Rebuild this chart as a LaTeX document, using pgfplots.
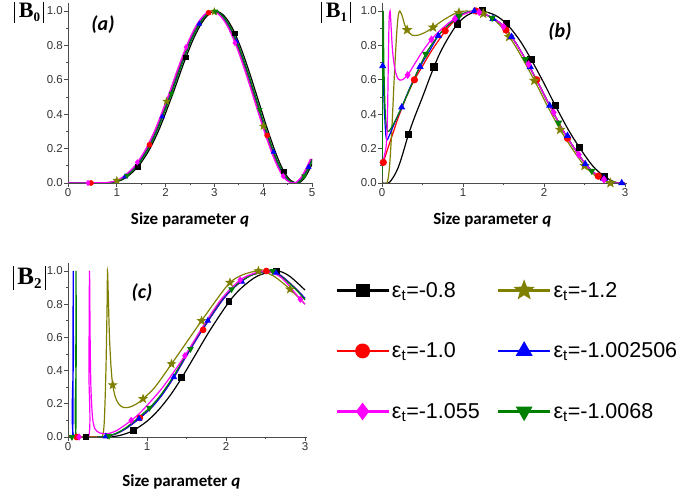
\documentclass[border=0pt]{standalone}
\usepackage{fontspec}
\setmainfont{Liberation Sans}
\newfontfamily\carlito{Carlito}
\newfontfamily\tnr{Liberation Serif}
\usepackage{pgfplots}
\pgfplotsset{compat=1.18}
\usepackage{pgfplotstable}

\definecolor{olv}{RGB}{128,128,0}
\definecolor{grn}{RGB}{0,128,0}
\definecolor{mag}{RGB}{255,0,255}
\definecolor{blu}{RGB}{0,0,255}
\definecolor{rd}{RGB}{255,0,0}

% filled five-point star
\pgfdeclareplotmark{fstar}{%
  \pgfpathmoveto{\pgfpointpolar{90}{1.3*\pgfplotmarksize}}%
  \pgfpathlineto{\pgfpointpolar{126}{0.55*\pgfplotmarksize}}%
  \pgfpathlineto{\pgfpointpolar{162}{1.3*\pgfplotmarksize}}%
  \pgfpathlineto{\pgfpointpolar{198}{0.55*\pgfplotmarksize}}%
  \pgfpathlineto{\pgfpointpolar{234}{1.3*\pgfplotmarksize}}%
  \pgfpathlineto{\pgfpointpolar{270}{0.55*\pgfplotmarksize}}%
  \pgfpathlineto{\pgfpointpolar{306}{1.3*\pgfplotmarksize}}%
  \pgfpathlineto{\pgfpointpolar{342}{0.55*\pgfplotmarksize}}%
  \pgfpathlineto{\pgfpointpolar{18}{1.3*\pgfplotmarksize}}%
  \pgfpathlineto{\pgfpointpolar{54}{0.55*\pgfplotmarksize}}%
  \pgfpathclose\pgfusepathqfillstroke}

% |B_n| with thin bars: #1 index, #2 font size, #3 subscript size, #4 bar height
\newcommand\absB[4]{{\tnr\bfseries\fontsize{#2}{#2}\selectfont
  \vrule height #4 depth 5bp width 0.7bp\kern4bp B\lower4bp\hbox{\fontsize{#3}{#3}\selectfont #1}\kern3bp\vrule height #4 depth 5bp width 0.7bp}}

\pgfplotsset{
  panel/.style={
    scale only axis, axis lines=left,
    axis line style={-, black!70, line width=0.9bp},
    ymin=0, ymax=1.045, ytick={0,0.2,0.4,0.6,0.8,1},
    minor y tick num=1, minor x tick num=1,
    tick align=outside, major tick length=4bp, minor tick length=2bp,
    tick style={black!70, line width=0.8bp},
    /pgf/number format/assume math mode=true,
    ticklabel style={font=\fontsize{11.5bp}{13bp}\selectfont, text=black!80, inner sep=1bp},
    yticklabel style={/pgf/number format/.cd, fixed, fixed zerofill, precision=1},
    xlabel={\carlito\bfseries Size parameter {\itshape q}},
    xlabel style={font=\fontsize{17bp}{20bp}\selectfont, at={(axis description cs:0.5,0)}, anchor=center},
    every axis plot/.append style={line width=1.2bp, smooth},
  },
  pk/.style={only marks, black, mark=square*},
  pr/.style={only marks, rd, mark=*},
  pm/.style={only marks, mag, mark=diamond*},
  po/.style={only marks, olv, mark=fstar},
  pb/.style={only marks, blu, mark=triangle*},
  pg/.style={only marks, grn, mark=triangle*, mark options={rotate=180}},
}

% panel (a): shared |B0| values, one q column per series
\pgfplotstableread{
v     qk   qr   qm   qo   qb   qg
0     0    0    0    0    0    0
0.002 0.85 0.8  0.77 0.78 0.81 0.82
0.005 0.95 0.9  0.87 0.88 0.91 0.92
0.012 1.05 1.0  0.97 0.98 1.01 1.02
0.025 1.15 1.1  1.07 1.08 1.11 1.12
0.045 1.25 1.2  1.17 1.18 1.21 1.22
0.07  1.35 1.3  1.27 1.28 1.31 1.32
0.10  1.45 1.4  1.37 1.38 1.41 1.42
0.14  1.55 1.5  1.47 1.48 1.51 1.52
0.185 1.65 1.6  1.57 1.58 1.61 1.62
0.24  1.75 1.7  1.67 1.68 1.71 1.72
0.30  1.85 1.8  1.77 1.78 1.81 1.82
0.37  1.95 1.9  1.87 1.88 1.91 1.92
0.445 2.05 2.0  1.97 1.98 2.01 2.02
0.52  2.15 2.1  2.07 2.08 2.11 2.12
0.60  2.25 2.2  2.17 2.18 2.21 2.22
0.68  2.35 2.3  2.27 2.28 2.31 2.32
0.755 2.45 2.4  2.37 2.38 2.41 2.42
0.825 2.55 2.5  2.47 2.48 2.51 2.52
0.885 2.65 2.6  2.57 2.58 2.61 2.62
0.935 2.75 2.7  2.67 2.68 2.71 2.72
0.972 2.85 2.8  2.77 2.78 2.81 2.82
0.995 2.95 2.9  2.87 2.88 2.91 2.92
0.998 3.05 3.0  2.97 2.98 3.01 3.02
0.985 3.15 3.1  3.07 3.08 3.11 3.12
0.955 3.25 3.2  3.17 3.18 3.21 3.22
0.91  3.35 3.3  3.27 3.28 3.31 3.32
0.85  3.45 3.4  3.37 3.38 3.41 3.42
0.78  3.55 3.5  3.47 3.48 3.51 3.52
0.70  3.65 3.6  3.57 3.58 3.61 3.62
0.615 3.75 3.7  3.67 3.68 3.71 3.72
0.525 3.85 3.8  3.77 3.78 3.81 3.82
0.435 3.95 3.9  3.87 3.88 3.91 3.92
0.345 4.05 4.0  3.97 3.98 4.01 4.02
0.26  4.15 4.1  4.07 4.08 4.11 4.12
0.18  4.25 4.2  4.17 4.18 4.21 4.22
0.11  4.35 4.3  4.27 4.28 4.31 4.32
0.055 4.45 4.4  4.37 4.38 4.41 4.42
0.018 4.55 4.5  4.47 4.48 4.51 4.52
0.002 4.65 4.6  4.57 4.58 4.61 4.62
0     4.70 4.65 4.62 4.63 4.66 4.67
0.003 4.75 4.7  4.67 4.68 4.71 4.72
0.03  4.85 4.8  4.77 4.78 4.81 4.82
0.08  4.95 4.9  4.87 4.88 4.91 4.92
0.14  5.05 5.0  4.97 4.98 5.01 5.02
}\tA

\begin{document}
\begin{tikzpicture}
\path[use as bounding box] (0,0) rectangle (685bp,495bp);

% ---------- (a) ----------
\begin{axis}[panel, at={(68bp,312bp)}, anchor=south west,
  width=244bp, height=179.7bp, xmin=0, xmax=5, xtick={0,1,2,3,4,5},
  xlabel style={yshift=-37bp}]
\addplot[black] table[x=qk, y=v] {\tA};
\addplot[rd]    table[x=qr, y=v] {\tA};
\addplot[olv]   table[x=qo, y=v] {\tA};
\addplot[blu]   table[x=qb, y=v] {\tA};
\addplot[grn]   table[x=qg, y=v] {\tA};
\addplot[mag]   table[x=qm, y=v] {\tA};
\pgfplotsset{every axis plot/.append style={mark size=2.2bp}}
\addplot[pk] coordinates {(1.43,0.094)(2.42,0.73)(3.42,0.87)(4.43,0.066)};
\addplot[pr] coordinates {(0.47,0)(1.67,0.222)(2.88,0.99)(4.08,0.277)};
\addplot[po] coordinates {(1.0,0.015)(2.02,0.475)(3.0,0.996)(4.0,0.33)};
\addplot[pb] coordinates {(1.17,0.037)(1.93,0.385)(2.69,0.925)(3.45,0.822)(4.21,0.18)(4.93,0.092)};
\addplot[pg] coordinates {(1.21,0.043)(2.12,0.52)(3.02,0.998)(3.93,0.426)(4.84,0.04)};
\addplot[pm] coordinates {(0.41,0)(1.42,0.12)(2.42,0.79)(3.42,0.815)(4.41,0.04)};
\end{axis}

% ---------- (b) ----------
\begin{axis}[panel, at={(382bp,312bp)}, anchor=south west,
  width=244.6bp, height=179.7bp, xmin=0, xmax=3.02, xtick={0,1,2,3},
  xlabel style={yshift=-37bp, xshift=-12bp}]
\addplot[black] coordinates {(0,0)(0.08,0)(0.12,0.02)(0.16,0.05)(0.2,0.09)(0.25,0.16)
  (0.325,0.28)(0.4,0.38)(0.5,0.5)(0.6,0.625)(0.7,0.74)(0.8,0.83)(0.93,0.925)(1.05,0.975)
  (1.15,0.995)(1.24,1.0)(1.4,0.975)(1.54,0.925)(1.7,0.83)(1.84,0.72)(2.0,0.58)(2.14,0.45)
  (2.3,0.31)(2.44,0.205)(2.6,0.1)(2.74,0.04)(2.85,0.01)(2.92,0)(3.0,0)};
\addplot[rd] coordinates {(0,0.1)(0.05,0.17)(0.1,0.24)(0.15,0.31)(0.2,0.38)(0.3,0.5)
  (0.4,0.6)(0.5,0.68)(0.6,0.76)(0.7,0.83)(0.8,0.895)(0.9,0.945)(1.0,0.98)
  (1.15,1.0)(1.3,0.975)(1.47,0.925)(1.63,0.83)(1.77,0.72)(1.93,0.58)(2.07,0.45)
  (2.23,0.31)(2.37,0.205)(2.53,0.1)(2.67,0.04)(2.78,0.01)(2.86,0)(3.0,0)};
\addplot[olv] coordinates {(0,0)(0.06,0)(0.09,0.08)(0.12,0.3)(0.15,0.6)(0.18,0.86)
  (0.2,0.97)(0.22,1.0)(0.25,0.97)(0.28,0.92)(0.31,0.89)(0.37,0.86)(0.45,0.86)(0.55,0.88)
  (0.63,0.905)(0.75,0.945)(0.9,0.985)(1.05,1.0)(1.3,0.975)(1.44,0.925)(1.6,0.83)
  (1.74,0.72)(1.9,0.58)(2.04,0.45)(2.2,0.31)(2.34,0.205)(2.5,0.1)(2.64,0.04)(2.75,0.01)
  (2.83,0)(3.0,0)};
\addplot[blu] coordinates {(0,0.72)(0.015,0.6)(0.03,0.42)(0.045,0.29)(0.06,0.25)
  (0.08,0.265)(0.12,0.31)(0.18,0.375)(0.243,0.44)(0.35,0.56)(0.469,0.676)(0.6,0.78)
  (0.695,0.856)(0.8,0.91)(0.92,0.96)(1.0,0.985)
  (1.15,1.0)(1.3,0.975)(1.47,0.925)(1.63,0.83)(1.77,0.72)(1.93,0.58)(2.07,0.45)
  (2.23,0.31)(2.37,0.205)(2.53,0.1)(2.67,0.04)(2.78,0.01)(2.86,0)(3.0,0)};
\addplot[grn] coordinates {(0,0.05)(0.008,0.6)(0.015,1.0)(0.022,0.72)(0.035,0.47)
  (0.05,0.35)(0.07,0.3)(0.1,0.31)(0.15,0.35)(0.243,0.44)(0.35,0.555)(0.54,0.75)
  (0.7,0.86)(0.8,0.91)(0.92,0.96)(1.0,0.985)
  (1.15,1.0)(1.3,0.975)(1.47,0.925)(1.63,0.83)(1.77,0.72)(1.93,0.58)(2.07,0.45)
  (2.23,0.31)(2.37,0.205)(2.53,0.1)(2.67,0.04)(2.78,0.01)(2.86,0)(3.0,0)};
\addplot[mag] coordinates {(0,0.1)(0.03,0.16)(0.055,0.23)(0.068,0.4)(0.078,0.7)
  (0.088,0.95)(0.1,1.0)(0.11,0.93)(0.13,0.77)(0.16,0.66)(0.2,0.605)(0.25,0.6)
  (0.317,0.628)(0.4,0.69)(0.5,0.765)(0.61,0.835)(0.7,0.88)(0.85,0.94)(1.0,0.98)
  (1.15,1.0)(1.3,0.975)(1.47,0.925)(1.63,0.83)(1.77,0.72)(1.93,0.58)(2.07,0.45)
  (2.23,0.31)(2.37,0.205)(2.53,0.1)(2.67,0.04)(2.78,0.01)(2.86,0)(3.0,0)};
\pgfplotsset{every axis plot/.append style={mark size=3bp}}
\addplot[pk] coordinates {(0.325,0.28)(0.642,0.675)(0.934,0.925)(1.24,1.0)(1.54,0.925)
  (1.84,0.72)(2.14,0.45)(2.44,0.205)(2.74,0.04)};
\addplot[pr] coordinates {(0.016,0.12)(0.40,0.60)(0.78,0.885)(1.16,1.0)(1.53,0.89)
  (1.91,0.6)(2.29,0.26)(2.67,0.04)};
\addplot[po] coordinates {(0.31,0.89)(0.63,0.905)(0.95,0.99)(1.25,0.985)(1.57,0.85)
  (1.88,0.595)(2.2,0.31)(2.5,0.1)(2.82,0)};
\addplot[pb] coordinates {(0.008,0.68)(0.243,0.44)(0.469,0.676)(0.695,0.856)(0.92,0.96)
  (1.14,1.0)(1.37,0.955)(1.6,0.85)(1.83,0.675)(2.07,0.45)(2.29,0.275)(2.51,0.11)
  (2.74,0.025)(2.96,0)};
\addplot[pg] coordinates {(0.54,0.75)(0.95,0.97)(1.36,0.96)(1.77,0.72)(2.18,0.35)(2.59,0.07)};
\addplot[pm] coordinates {(0.317,0.628)(0.61,0.835)(0.9,0.955)(1.2,0.993)(1.5,0.91)
  (1.81,0.69)(2.12,0.41)(2.43,0.165)(2.74,0.02)};
\end{axis}

% ---------- (c) ----------
\begin{axis}[panel, at={(68bp,58bp)}, anchor=south west,
  width=238.6bp, height=173.5bp, xmin=0, xmax=3.02, xtick={0,1,2,3},
  xlabel style={yshift=-45bp, xshift=-6bp}]
\addplot[black] coordinates {(0,0)(0.5,0)(0.6,0.004)(0.7,0.015)(0.83,0.04)(1.0,0.095)
  (1.15,0.165)(1.3,0.255)(1.44,0.357)(1.6,0.485)(1.8,0.645)(2.04,0.815)(2.2,0.9)(2.4,0.97)
  (2.64,1.0)(2.8,0.97)(3.0,0.885)};
\addplot[rd] coordinates {(0,0)(0.4,0)(0.5,0.005)(0.6,0.018)(0.73,0.05)(0.9,0.11)
  (1.03,0.165)(1.1,0.2)(1.2,0.26)(1.34,0.36)(1.5,0.49)(1.7,0.645)(1.94,0.815)(2.1,0.9)
  (2.3,0.97)(2.54,1.0)(2.7,0.97)(2.9,0.885)(3.0,0.83)};
\addplot[olv] coordinates {(0,0)(0.4,0)(0.44,0.01)(0.46,0.1)(0.48,0.4)(0.495,0.8)
  (0.5,1.0)(0.51,0.85)(0.525,0.6)(0.545,0.42)(0.566,0.313)(0.6,0.24)(0.64,0.2)
  (0.7,0.178)(0.78,0.18)(0.87,0.2)(0.95,0.23)(1.1,0.3)(1.31,0.44)(1.5,0.57)(1.69,0.70)
  (1.9,0.84)(2.05,0.93)(2.2,0.975)(2.41,1.0)(2.6,0.97)(2.81,0.89)(3.0,0.80)};
\addplot[blu] coordinates {(0,0)(0.058,0)(0.063,0.5)(0.066,1.0)(0.069,0.5)(0.074,0)
  (0.4,0)(0.5,0.005)(0.6,0.018)(0.73,0.05)(0.9,0.11)(1.03,0.165)(1.1,0.2)(1.2,0.26)
  (1.34,0.36)(1.5,0.49)(1.7,0.645)(1.94,0.815)(2.1,0.9)(2.3,0.97)(2.54,1.0)(2.7,0.97)
  (2.9,0.885)(3.0,0.835)};
\addplot[grn] coordinates {(0,0)(0.095,0)(0.099,0.5)(0.102,1.0)(0.105,0.5)(0.11,0)
  (0.4,0)(0.5,0.006)(0.6,0.02)(0.73,0.055)(0.9,0.12)(1.03,0.175)(1.1,0.21)(1.2,0.27)
  (1.34,0.37)(1.5,0.5)(1.7,0.655)(1.94,0.825)(2.1,0.905)(2.3,0.97)(2.52,1.0)(2.7,0.965)
  (2.9,0.88)(3.0,0.825)};
\addplot[mag] coordinates {(0,0)(0.26,0)(0.265,0.4)(0.272,1.0)(0.28,0.6)(0.29,0.3)
  (0.31,0.12)(0.34,0.05)(0.4,0.025)(0.5,0.02)(0.6,0.035)(0.7,0.065)(0.8,0.1)(0.9,0.14)
  (1.0,0.19)(1.2,0.3)(1.48,0.49)(1.7,0.66)(1.94,0.83)(2.18,0.946)(2.35,0.985)(2.5,1.0)
  (2.7,0.96)(2.94,0.83)(3.0,0.8)};
\pgfplotsset{every axis plot/.append style={mark size=2.7bp}}
\addplot[pk] coordinates {(0.23,0)(0.83,0.04)(1.44,0.357)(2.04,0.815)(2.64,1.0)};
\addplot[pr] coordinates {(0.11,0)(0.91,0.115)(1.71,0.645)(2.51,1.0)};
\addplot[po] coordinates {(0.566,0.313)(0.95,0.23)(1.31,0.44)(1.69,0.70)(2.05,0.93)
  (2.41,1.0)(2.81,0.89)};
\addplot[pb] coordinates {(0.48,0.004)(0.9,0.11)(1.34,0.36)(1.77,0.7)(2.2,0.935)(2.63,0.99)};
\addplot[pg] coordinates {(0.05,0)(0.52,0.007)(1.03,0.175)(1.55,0.53)(2.07,0.89)(2.59,1.0)};
\addplot[pm] coordinates {(0.14,0)(0.8,0.1)(1.48,0.49)(2.18,0.946)(2.94,0.83)};
\end{axis}

% ---------- legend ----------
\begin{axis}[hide axis, scale only axis, width=10bp, height=10bp,
  xmin=0, xmax=1, ymin=0, ymax=1, at={(335bp,215bp)}, anchor=north west,
  legend columns=2,
  legend image code/.code={\draw[mark repeat=2, mark phase=2, #1]
    plot coordinates {(0bp,0bp)(26bp,0bp)(52bp,0bp)};},
  legend style={at={(0,1)}, anchor=north west, draw=none, fill=none,
    inner sep=0pt, font=\fontsize{21.5bp}{25bp}\selectfont, row sep=40bp,
    /tikz/every even column/.append style={column sep=15bp}},
  legend cell align=left]
\addlegendimage{black, line width=2.8bp, mark=square*, mark size=5.5bp}
\addlegendentry{ε\textsubscript{t}=-0.8}
\addlegendimage{olv, line width=2.8bp, mark=fstar, mark size=5.5bp}
\addlegendentry{ε\textsubscript{t}=-1.2}
\addlegendimage{rd, line width=2.8bp, mark=*, mark size=6bp}
\addlegendentry{ε\textsubscript{t}=-1.0}
\addlegendimage{blu, line width=2.8bp, mark=triangle*, mark size=7bp}
\addlegendentry{ε\textsubscript{t}=-1.002506}
\addlegendimage{mag, line width=2.8bp, mark=diamond*, mark size=6.5bp}
\addlegendentry{ε\textsubscript{t}=-1.055}
\addlegendimage{grn, line width=2.8bp, mark=triangle*, mark size=7bp, mark options={rotate=180}}
\addlegendentry{ε\textsubscript{t}=-1.0068}
\end{axis}

% ---------- panel letters and quantity labels ----------
\node[font=\carlito\bfseries\itshape\fontsize{20bp}{24bp}\selectfont] at (103bp,470bp) {(a)};
\node[font=\carlito\bfseries\itshape\fontsize{20bp}{24bp}\selectfont] at (560bp,463bp) {(b)};
\node[font=\carlito\bfseries\itshape\fontsize{20bp}{24bp}\selectfont] at (142bp,202bp) {(c)};
\node[anchor=base, inner sep=0pt] at (29bp,477bp) {\absB{0}{22bp}{13bp}{16bp}};
\node[anchor=base, inner sep=0pt] at (336bp,477bp) {\absB{1}{22bp}{13bp}{16bp}};
\node[anchor=base, inner sep=0pt] at (29bp,210bp) {\absB{2}{25bp}{15bp}{19bp}};
\end{tikzpicture}
\end{document}
